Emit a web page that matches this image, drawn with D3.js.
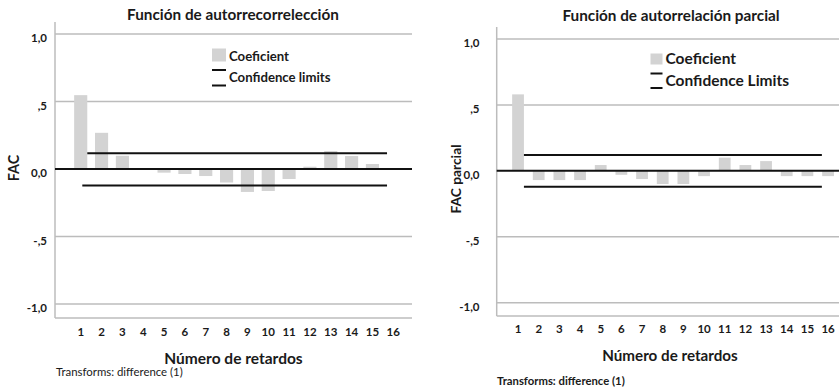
<!DOCTYPE html>
<html>
<head>
<meta charset="utf-8">
<script src="https://cdn.jsdelivr.net/npm/d3@7"></script>
<style>
  body { margin: 0; background: #fff; }
  svg text { font-family: Lato, "Open Sans", sans-serif; font-weight: 700; fill: #1a1a1a; }
</style>
</head>
<body>
<script>
// lags shown on the x axis
var lags = [1, 2, 3, 4, 5, 6, 7, 8, 9, 10, 11, 12, 13, 14, 15, 16];

// autocorrelation coefficients (left) and partial autocorrelation (right)
var facValues = [0.547, 0.268, 0.098, 0.004, -0.027, -0.037, -0.052, -0.10, -0.17, -0.163, -0.074, 0.017, 0.133, 0.096, 0.037, 0.0];
var pacfValues = [0.58, -0.07, -0.07, -0.07, 0.044, -0.03, -0.062, -0.10, -0.10, -0.04, 0.10, 0.044, 0.074, -0.04, -0.04, -0.04];

// confidence limits [upper, lower]
var facLimits = [0.116, -0.123];
var pacfLimits = [0.12, -0.12];

var yTicks = [-1, -0.5, 0, 0.5, 1];
var yTickLabels = ["-1,0", "-,5", "0,0", ",5", "1,0"];

var svgWidth = 839;
var svgHeight = 392;

var svg = d3.select("body")
  .append("svg")
  .attr("width", svgWidth)
  .attr("height", svgHeight);

var panels = [
  {
    values: facValues, limits: facLimits,
    title: "Función de autorrecorrelección", titleX: 233, titleY: 20, titleSize: 15.3,
    yLabel: "FAC", yLabelX: 19, yLabelY: 168, yLabelSize: 14.4,
    xLabel: "Número de retardos", xLabelX: 233.5, xLabelY: 364, xLabelSize: 15.5,
    note: "Transforms: difference (1)", noteX: 56, noteY: 376, noteSize: 11.4, noteWeight: 400,
    x0: 55, x1: 412, yTop: 22, yBottom: 318, yRange: [304, 34],
    band: [70.3, 403.7], pad: 0.37, lowerShift: 0.12,
    tickLabelX: 47, xTickY: 327.5,
    legend: { x: 212, y: 48.5, box: 13, size: 13.2, row2: 82, line1: 70, line2: 85.5 }
  },
  {
    values: pacfValues, limits: pacfLimits,
    title: "Función de autorrelación parcial", titleX: 671, titleY: 20.5, titleSize: 15.3,
    yLabel: "FAC parcial", yLabelX: 461, yLabelY: 179, yLabelSize: 13.8,
    xLabel: "Número de retardos", xLabelX: 670, xLabelY: 361, xLabelSize: 15.2,
    note: "Transforms: difference (1)", noteX: 497, noteY: 385, noteSize: 11.3, noteWeight: 700,
    x0: 496.7, x1: 839, yTop: 27, yBottom: 316, yRange: [302.7, 39],
    band: [507.7, 838.4], pad: 0.43, lowerShift: 0.5,
    tickLabelX: 479.5, xTickY: 324.5,
    legend: { x: 650.5, y: 53.5, box: 11, size: 15.5, row2: 86, line1: 73.5, line2: 88 }
  }
];

panels.forEach(drawPanel);

function drawPanel(p) {
  var g = svg.append("g");

  var x = d3.scaleBand()
    .domain(lags)
    .range(p.band)
    .paddingInner(p.pad)
    .paddingOuter(p.pad / 2);

  var y = d3.scaleLinear()
    .domain([-1, 1])
    .range(p.yRange);

  // gridlines
  g.selectAll("line.grid")
    .data(yTicks.filter(function(d) { return d !== 0; }))
    .enter()
    .append("line")
    .attr("class", "grid")
    .attr("x1", p.x0)
    .attr("x2", p.x1)
    .attr("y1", function(d) { return y(d); })
    .attr("y2", function(d) { return y(d); })
    .attr("stroke", "#bcbcbc")
    .attr("stroke-width", 1.5);

  // frame (left + bottom)
  g.append("line")
    .attr("x1", p.x0).attr("x2", p.x0)
    .attr("y1", p.yTop).attr("y2", p.yBottom)
    .attr("stroke", "#bcbcbc").attr("stroke-width", 1.5);
  g.append("line")
    .attr("x1", p.x0).attr("x2", p.x1)
    .attr("y1", p.yBottom).attr("y2", p.yBottom)
    .attr("stroke", "#bcbcbc").attr("stroke-width", 1.5);

  // bars
  g.selectAll("rect.bar")
    .data(p.values)
    .enter()
    .append("rect")
    .attr("class", "bar")
    .attr("x", function(d, i) { return x(lags[i]); })
    .attr("width", x.bandwidth())
    .attr("y", function(d) { return y(Math.max(0, d)); })
    .attr("height", function(d) { return Math.abs(y(d) - y(0)); })
    .attr("fill", "#d3d3d3");

  // zero line
  g.append("line")
    .attr("x1", p.x0).attr("x2", p.x1)
    .attr("y1", y(0)).attr("y2", y(0))
    .attr("stroke", "#111").attr("stroke-width", 2);

  // confidence limits
  var c1 = x(lags[0]) + x.bandwidth() / 2;
  var cEnd = x(lags[14]) + x.bandwidth() / 2 + x.step() * 0.7;
  g.append("line")
    .attr("x1", c1 + x.bandwidth() / 2).attr("x2", cEnd)
    .attr("y1", y(p.limits[0])).attr("y2", y(p.limits[0]))
    .attr("stroke", "#111").attr("stroke-width", 2);
  g.append("line")
    .attr("x1", c1 + x.bandwidth() * p.lowerShift).attr("x2", cEnd)
    .attr("y1", y(p.limits[1])).attr("y2", y(p.limits[1]))
    .attr("stroke", "#111").attr("stroke-width", 2);

  // y tick labels
  var leftAxis = d3.axisLeft(y)
    .tickValues(yTicks)
    .tickFormat(function(d, i) { return yTickLabels[i]; })
    .tickSize(0)
    .tickPadding(0);
  var ya = g.append("g")
    .attr("transform", `translate(${p.tickLabelX}, 4)`)
    .call(leftAxis);
  ya.select(".domain").remove();
  ya.attr("font-family", null).attr("font-size", null);
  ya.selectAll("text").style("font-size", "11.5px");

  // x tick labels
  var bottomAxis = d3.axisBottom(x).tickSize(0).tickPadding(0);
  var xa = g.append("g")
    .attr("transform", `translate(0, ${p.xTickY})`)
    .call(bottomAxis);
  xa.select(".domain").remove();
  xa.attr("font-family", null).attr("font-size", null);
  xa.selectAll("text").style("font-size", "11.5px");

  // titles
  g.append("text")
    .attr("x", p.titleX).attr("y", p.titleY)
    .attr("text-anchor", "middle")
    .style("font-size", p.titleSize + "px")
    .text(p.title);

  g.append("text")
    .attr("transform", `translate(${p.yLabelX}, ${p.yLabelY}) rotate(-90)`)
    .attr("text-anchor", "middle")
    .style("font-size", p.yLabelSize + "px")
    .text(p.yLabel);

  g.append("text")
    .attr("x", p.xLabelX).attr("y", p.xLabelY)
    .attr("text-anchor", "middle")
    .style("font-size", p.xLabelSize + "px")
    .text(p.xLabel);

  g.append("text")
    .attr("x", p.noteX).attr("y", p.noteY)
    .style("font-size", p.noteSize + "px")
    .style("font-weight", p.noteWeight)
    .text(p.note);

  // legend
  var L = p.legend;
  g.append("rect")
    .attr("x", L.x).attr("y", L.y)
    .attr("width", L.box + 1).attr("height", L.box)
    .attr("fill", "#d3d3d3");
  g.append("text")
    .attr("x", L.x + L.box + 4).attr("y", L.y + L.box - 1)
    .style("font-size", L.size + "px")
    .text("Coeficient");
  [L.line1, L.line2].forEach(function(ly) {
    g.append("line")
      .attr("x1", L.x).attr("x2", L.x + L.box + 1)
      .attr("y1", ly).attr("y2", ly)
      .attr("stroke", "#111").attr("stroke-width", 2);
  });
  g.append("text")
    .attr("x", L.x + L.box + 4).attr("y", L.row2)
    .style("font-size", L.size + "px")
    .text(p === panels[0] ? "Confidence limits" : "Confidence Limits");
}
</script>
</body>
</html>
